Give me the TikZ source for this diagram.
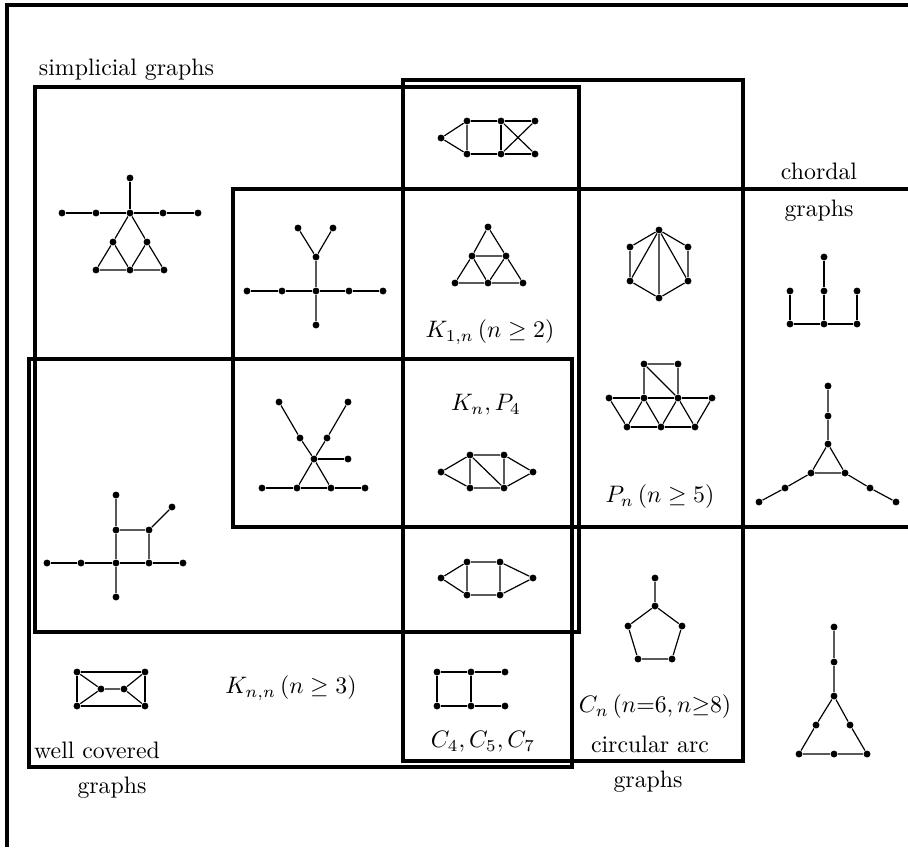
\documentclass[tikz,border=0pt]{standalone}
\usepackage{amsmath,amssymb}
\usepackage{tikz}
\usetikzlibrary{positioning}

\begin{document}
\begin{tikzpicture}[x=0.42pt,y=-0.42pt,line width=0.5pt,
    vtx/.style={circle,fill=black,inner sep=0pt,minimum size=2.9pt},
    region/.style={line width=1.3pt},
    lbl/.style={inner sep=1pt}]
\useasboundingbox (0,0) rectangle (908,847);

% frame and classes
\draw[region] (7,847) -- (7,5) -- (908,5);
\draw[region] (35,87) rectangle (579,632);
\draw[region] (403,80) rectangle (743,761);
\draw[region] (908,189) -- (233,189) -- (233,527) -- (908,527);
\draw[region] (29,359) rectangle (572,767);

\node[lbl,anchor=west] (simp) at (36,70) {simplicial graphs};
\node[lbl] (chord) at (819,171) {chordal};
\node[lbl] (chordb) at (819,211) {graphs};
\node[lbl] (circ) at (650,744) {circular arc};
\node[lbl] (circb) at (648,782) {graphs};
\node[lbl] (well) at (97,750) {well covered};
\node[lbl] (wellb) at (112,788) {graphs};
\node[lbl] (kone) at (490,332) {$K_{1,n}\,(n\geq 2)$};
\node[lbl] (knpf) at (486,405) {$K_n, P_4$};
\node[lbl] (pn) at (660,497) {$P_n\,(n\geq 5)$};
\node[lbl] (knn) at (291,688) {$K_{n,n}\,(n\geq 3)$};
\node[lbl] (cfive) at (483,742) {$C_4, C_5, C_7$};
\node[lbl] (cn) at (655,707) {$C_n\,(n{=}6, n{\geq}8)$};

% simplicial only
\foreach \n/\x/\y in {s1/130/178,s2/62/213,s3/96/213,s4/130/213,s5/163/213,s6/198/213,
    s7/113/242,s8/147/242,s9/96/270,s10/130/270,s11/164/270}
    \node[vtx] (\n) at (\x,\y) {};
\draw (s1) -- (s4) (s2) -- (s3) -- (s4) -- (s5) -- (s6);
\draw (s4) -- (s7) -- (s9) -- (s10) -- (s11) -- (s8) -- (s4);
\draw (s7) -- (s10) -- (s8);

% simplicial and chordal
\foreach \n/\x/\y in {t1/298/228,t2/333/228,t3/316/257,t4/247/291,t5/282/291,
    t6/316/291,t7/349/291,t8/383/291,t9/316/325}
    \node[vtx] (\n) at (\x,\y) {};
\draw (t1) -- (t3) -- (t2) (t3) -- (t6) -- (t9);
\draw (t4) -- (t5) -- (t6) -- (t7) -- (t8);

% simplicial and circular arc
\foreach \n/\x/\y in {u1/441/138,u2/467/121,u3/467/154,u4/501/121,u5/501/154,
    u6/535/121,u7/535/154}
    \node[vtx] (\n) at (\x,\y) {};
\draw (u1) -- (u2) -- (u3) -- (u1);
\draw (u2) -- (u4) -- (u6) (u3) -- (u5) -- (u7) (u4) -- (u5);
\draw (u4) -- (u7) (u5) -- (u6);

% K_{1,n}
\foreach \n/\x/\y in {v1/488/227,v2/472/256,v3/506/256,v4/455/283,v5/488/283,v6/523/283}
    \node[vtx] (\n) at (\x,\y) {};
\draw (v1) -- (v2) -- (v3) -- (v1);
\draw (v2) -- (v4) -- (v5) -- (v6) -- (v3) -- (v5) -- (v2);

% circular arc and chordal
\foreach \n/\x/\y in {h1/659/230,h2/630/247,h3/688/247,h4/630/281,h5/688/281,h6/659/298}
    \node[vtx] (\n) at (\x,\y) {};
\draw (h1) -- (h2) -- (h4) -- (h6) -- (h5) -- (h3) -- (h1);
\draw (h1) -- (h4) (h1) -- (h6) (h1) -- (h5);

% chordal only
\foreach \n/\x/\y in {c1/824/257,c2/790/291,c3/824/291,c4/857/291,c5/790/324,
    c6/824/324,c7/857/324}
    \node[vtx] (\n) at (\x,\y) {};
\draw (c1) -- (c3) -- (c6) (c2) -- (c5) (c4) -- (c7);
\draw (c5) -- (c6) -- (c7);

% simplicial, chordal and well covered
\foreach \n/\x/\y in {x1/279/402,x2/348/402,x3/300/438,x4/327/438,x5/314/459,
    x6/348/459,x7/262/488,x8/297/488,x9/331/488,x10/365/488}
    \node[vtx] (\n) at (\x,\y) {};
\draw (x1) -- (x3) -- (x5) -- (x9) (x2) -- (x4) -- (x5) -- (x8);
\draw (x5) -- (x6) (x7) -- (x8) -- (x9) -- (x10);

% K_n, P_4
\foreach \n/\x/\y in {k1/441/472,k2/470/455,k3/470/488,k4/504/455,k5/504/488,k6/533/472}
    \node[vtx] (\n) at (\x,\y) {};
\draw (k1) -- (k2) -- (k3) -- (k1);
\draw (k2) -- (k4) -- (k6) -- (k5) -- (k3) (k4) -- (k5) -- (k2);

% P_n
\foreach \n/\x/\y in {p1/644/364,p2/678/364,p3/609/398,p4/644/398,p5/678/398,
    p6/712/398,p7/627/427,p8/661/427,p9/695/427}
    \node[vtx] (\n) at (\x,\y) {};
\draw (p1) -- (p2) -- (p5) -- (p1) -- (p4);
\draw (p3) -- (p4) -- (p5) -- (p6) (p7) -- (p8) -- (p9);
\draw (p3) -- (p7) -- (p4) -- (p8) -- (p5) -- (p9) -- (p6);

% chordal, not circular arc
\foreach \n/\x/\y in {y1/828/386,y2/828/416,y3/828/444,y4/811/473,y5/845/473,
    y6/785/488,y7/759/502,y8/870/488,y9/896/502}
    \node[vtx] (\n) at (\x,\y) {};
\draw (y1) -- (y2) -- (y3) -- (y4) -- (y5) -- (y3);
\draw (y4) -- (y6) -- (y7) (y5) -- (y8) -- (y9);

% simplicial and well covered
\foreach \n/\x/\y in {q1/116/495,q2/116/530,q3/149/530,q4/172/507,q5/47/563,
    q6/81/563,q7/116/563,q8/149/563,q9/183/563,q10/116/597}
    \node[vtx] (\n) at (\x,\y) {};
\draw (q1) -- (q2) -- (q7) -- (q10) (q2) -- (q3) -- (q8) (q3) -- (q4);
\draw (q5) -- (q6) -- (q7) -- (q8) -- (q9);

% simplicial, circular arc and well covered
\foreach \n/\x/\y in {e1/441/578,e2/467/562,e3/467/595,e4/500/562,e5/500/595,e6/533/578}
    \node[vtx] (\n) at (\x,\y) {};
\draw (e1) -- (e2) -- (e3) -- (e1);
\draw (e2) -- (e4) -- (e6) -- (e5) -- (e3) (e4) -- (e5);

% circular arc only
\foreach \n/\x/\y in {r1/655/578,r2/655/606,r3/628/626,r4/682/626,r5/638/659,r6/672/659}
    \node[vtx] (\n) at (\x,\y) {};
\draw (r1) -- (r2) -- (r3) -- (r5) -- (r6) -- (r4) -- (r2);

% well covered only
\foreach \n/\x/\y in {w1/77/672,w2/145/672,w3/101/689,w4/124/689,w5/77/706,w6/145/706}
    \node[vtx] (\n) at (\x,\y) {};
\draw (w1) -- (w2) -- (w6) -- (w5) -- (w1);
\draw (w1) -- (w3) -- (w5) (w3) -- (w4) (w2) -- (w4) -- (w6);

% well covered and circular arc
\foreach \n/\x/\y in {g1/437/672,g2/471/672,g3/505/672,g4/437/706,g5/471/706,g6/505/706}
    \node[vtx] (\n) at (\x,\y) {};
\draw (g1) -- (g2) -- (g3) (g4) -- (g5) -- (g6) (g1) -- (g4) (g2) -- (g5);

% none of them
\foreach \n/\x/\y in {z1/834/627,z2/834/662,z3/834/696,z4/816/725,z5/850/725,
    z6/799/754,z7/834/754,z8/867/754}
    \node[vtx] (\n) at (\x,\y) {};
\draw (z1) -- (z2) -- (z3) -- (z4) -- (z6) -- (z7) -- (z8) -- (z5) -- (z3);

\end{tikzpicture}
\end{document}
